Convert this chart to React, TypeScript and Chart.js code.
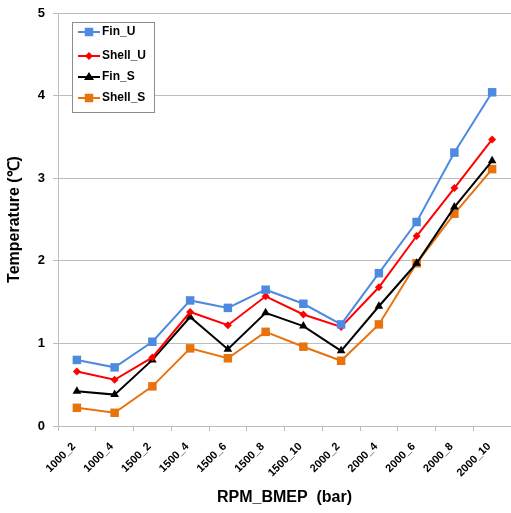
import React, { useEffect, useRef } from "react";
import { Chart, registerables } from "chart.js";

Chart.register(...registerables);

const categories = ["1000_2", "1000_4", "1500_2", "1500_4", "1500_6", "1500_8", "1500_10", "2000_2", "2000_4", "2000_6", "2000_8", "2000_10"];
const finU = [0.80, 0.71, 1.02, 1.52, 1.43, 1.65, 1.48, 1.23, 1.85, 2.47, 3.31, 4.04];
const shellU = [0.66, 0.56, 0.83, 1.38, 1.22, 1.57, 1.35, 1.20, 1.68, 2.30, 2.88, 3.47];
const finS = [0.42, 0.38, 0.80, 1.32, 0.93, 1.37, 1.21, 0.91, 1.45, 1.97, 2.65, 3.21];
const shellS = [0.22, 0.16, 0.48, 0.94, 0.82, 1.14, 0.96, 0.79, 1.23, 1.97, 2.57, 3.11];
const yTicks = [0, 1, 2, 3, 4, 5];

const FONT = "'Liberation Sans', Arial, sans-serif";
const GRID = "#bdbdbd";

type Series = { label: string; data: number[]; color: string; style: string; radius: number };
const series: Series[] = [
  { label: "Fin_U", data: finU, color: "#4d8ae0", style: "rect", radius: 6 },
  { label: "Shell_U", data: shellU, color: "#ff0000", style: "rectRot", radius: 4 },
  { label: "Fin_S", data: finS, color: "#000000", style: "triangle", radius: 5 },
  { label: "Shell_S", data: shellS, color: "#e8720c", style: "rect", radius: 6 },
];

function drawMarker(ctx: CanvasRenderingContext2D, style: string, x: number, y: number, r: number, color: string) {
  ctx.save();
  ctx.fillStyle = color;
  ctx.beginPath();
  if (style === "rect") {
    const s = r / Math.SQRT2;
    ctx.rect(x - s, y - s, 2 * s, 2 * s);
  } else if (style === "rectRot") {
    ctx.moveTo(x, y - r);
    ctx.lineTo(x + r, y);
    ctx.lineTo(x, y + r);
    ctx.lineTo(x - r, y);
    ctx.closePath();
  } else if (style === "triangle") {
    ctx.moveTo(x, y - r);
    ctx.lineTo(x + r, y + r * 0.6);
    ctx.lineTo(x - r, y + r * 0.6);
    ctx.closePath();
  }
  ctx.fill();
  ctx.restore();
}

const legendPlugin = {
  id: "boxLegend",
  afterDraw(chart: any) {
    const ctx: CanvasRenderingContext2D = chart.ctx;
    const left = chart.chartArea.left + 14;
    const top = chart.chartArea.top + 9;
    const w = 82;
    const h = 90;
    ctx.save();
    ctx.fillStyle = "#ffffff";
    ctx.fillRect(left, top, w, h);
    ctx.strokeStyle = "#8c8c8c";
    ctx.lineWidth = 1;
    ctx.strokeRect(left + 0.5, top + 0.5, w, h);
    ctx.font = `bold 12px ${FONT}`;
    ctx.textBaseline = "middle";
    ctx.textAlign = "left";
    const rows = [10, 34, 55, 76];
    series.forEach((s, i) => {
      const y = top + rows[i];
      ctx.strokeStyle = s.color;
      ctx.lineWidth = 2;
      ctx.beginPath();
      ctx.moveTo(left + 6, y);
      ctx.lineTo(left + 28, y);
      ctx.stroke();
      drawMarker(ctx, s.style, left + 17, y, s.radius, s.color);
      ctx.fillStyle = "#000000";
      ctx.fillText(s.label, left + 30, y);
    });
    ctx.restore();
  },
};

export default function App() {
  const ref = useRef<HTMLCanvasElement | null>(null);
  useEffect(() => {
    if (!ref.current) return;
    const chart = new Chart(ref.current, {
      type: "line",
      data: {
        labels: categories,
        datasets: series.map((s) => ({
          label: s.label,
          data: s.data,
          borderColor: s.color,
          backgroundColor: s.color,
          borderWidth: 2,
          pointStyle: s.style as any,
          pointRadius: s.radius,
          pointBorderWidth: 0,
          pointBackgroundColor: s.color,
          tension: 0,
        })),
      },
      options: {
        animation: false,
        responsive: false,
        maintainAspectRatio: false,
        layout: { autoPadding: false, padding: { top: 13, right: 0, left: 0, bottom: 0 } },
        plugins: {
          legend: { display: false },
          tooltip: { enabled: false },
        },
        scales: {
          x: {
            offset: true,
            grid: { display: true, drawOnChartArea: false, drawTicks: true, tickLength: 5, color: GRID, offset: true },
            border: { color: GRID },
            ticks: {
              minRotation: 45,
              maxRotation: 45,
              autoSkip: false,
              padding: 9,
              labelOffset: -3,
              color: "#000",
              font: { family: FONT, size: 11, weight: "bold" },
            },
            title: {
              display: true,
              text: "RPM_BMEP  (bar)",
              color: "#000",
              font: { family: FONT, size: 16, weight: "bold" },
              padding: { top: 10, bottom: 6 },
            },
            afterFit: (s: any) => {
              s.height = 87;
              s.paddingRight = 0;
              s.paddingLeft = 0;
            },
          },
          y: {
            min: 0,
            max: 5,
            afterBuildTicks: (s: any) => {
              s.ticks = yTicks.map((v) => ({ value: v }));
            },
            grid: { color: GRID, tickLength: 5, drawTicks: true },
            border: { color: GRID },
            ticks: {
              padding: 8,
              color: "#000",
              font: { family: FONT, size: 13, weight: "bold" },
            },
            title: {
              display: true,
              text: "Temperature (℃)",
              color: "#000",
              font: { family: FONT, size: 16, weight: "bold" },
              padding: { top: 5, bottom: 6 },
            },
            afterFit: (s: any) => {
              s.width = 58;
              s.paddingTop = 0;
              s.paddingBottom = 0;
            },
          },
        },
      },
      plugins: [legendPlugin],
    });
    return () => chart.destroy();
  }, []);
  return (
    <div style={{ position: "fixed", left: 0, top: 0, width: 511, height: 513, background: "#fff" }}>
      <canvas ref={ref} width={511} height={513} style={{ width: 511, height: 513, display: "block" }} />
    </div>
  );
}
